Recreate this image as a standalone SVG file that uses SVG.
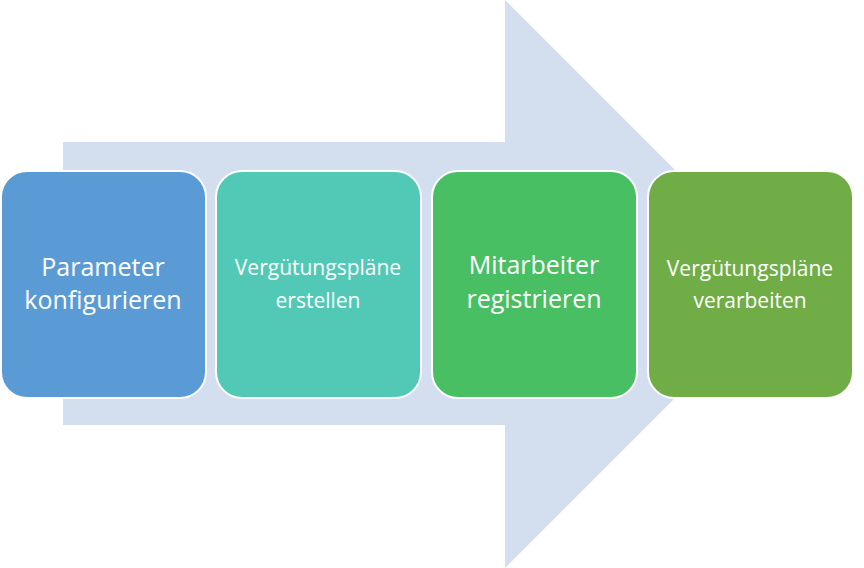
<svg xmlns="http://www.w3.org/2000/svg" width="864" height="568" viewBox="0 0 864 568">
<style>
.b{stroke:#fff;stroke-width:2}
.t{fill:#fff;font-family:"Open Sans","Liberation Sans",sans-serif;text-anchor:middle}
</style>
<rect width="864" height="568" fill="#fff"/>
<g id="connectors"><polygon points="63,142 505,142 505,0 789,284 505,568 505,425 63,425" fill="#D3DEEF"/></g>
<g id="n1"><rect class="b" x="1" y="171" width="205" height="227" rx="26" fill="#5B9BD5"/><text class="t" font-size="25"><tspan x="103" y="276">Parameter</tspan><tspan x="103" y="309">konfigurieren</tspan></text></g>
<g id="n2"><rect class="b" x="216" y="171" width="205" height="227" rx="26" fill="#52C9B6"/><text class="t" font-size="21"><tspan x="318" y="275">Vergütungspläne</tspan><tspan x="318" y="308">erstellen</tspan></text></g>
<g id="n3"><rect class="b" x="432" y="171" width="205" height="227" rx="26" fill="#48BF63"/><text class="t" font-size="25"><tspan x="534" y="274">Mitarbeiter</tspan><tspan x="534" y="308">registrieren</tspan></text></g>
<g id="n4"><rect class="b" x="648" y="171" width="205" height="227" rx="26" fill="#70AD47"/><text class="t" font-size="21"><tspan x="750" y="276">Vergütungspläne</tspan><tspan x="750" y="308">verarbeiten</tspan></text></g>
</svg>
